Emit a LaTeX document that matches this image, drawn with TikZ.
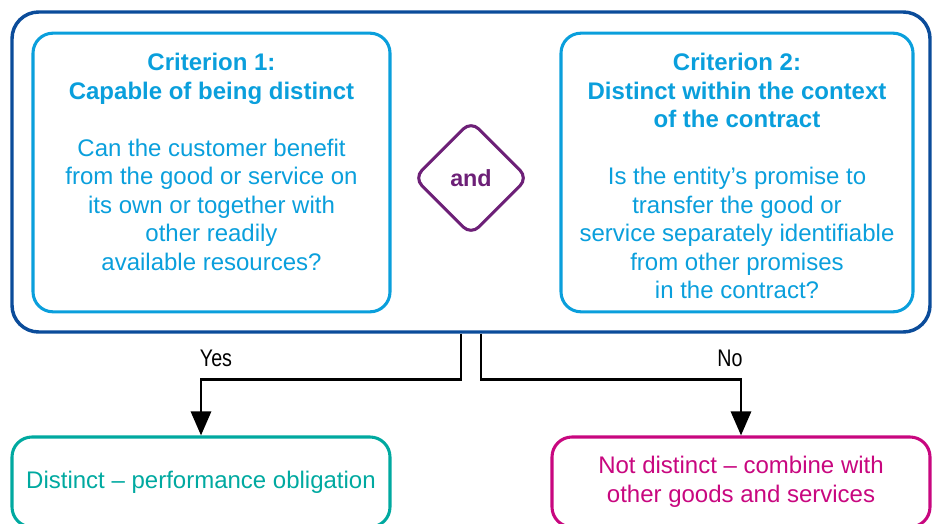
\documentclass[tikz,border=0pt]{standalone}
\usepackage{fontspec}
\setmainfont{Liberation Sans}
\newfontfamily\narrowfont[FakeStretch=0.82]{Liberation Sans}
\usetikzlibrary{shapes,arrows.meta,positioning}
\definecolor{kpmgdark}{HTML}{0B4C9A}
\definecolor{kpmglight}{HTML}{0A9FDC}
\definecolor{kpmgpurple}{HTML}{6D2077}
\definecolor{kpmgteal}{HTML}{00A9A0}
\definecolor{kpmgpink}{HTML}{C8077F}

\begin{document}
\begin{tikzpicture}[x=0.75pt, y=-0.75pt, node distance=1.5cm,
    outerbox/.style={draw=kpmgdark, line width=2.6pt, rounded corners=20pt, minimum width=688.5pt, minimum height=240pt},
    critbox/.style={draw=kpmglight, line width=2.3pt, rounded corners=15pt, minimum height=209pt},
    crittext/.style={text=kpmglight, align=center, inner sep=0pt, font=\fontsize{18}{21.4}\selectfont},
    andbox/.style={diamond, aspect=1, draw=kpmgpurple, line width=2.3pt, rounded corners=8pt, minimum size=86pt, text=kpmgpurple, font=\fontsize{17.5}{20}\selectfont\bfseries},
    resultbox/.style={line width=2.3pt, rounded corners=15pt, minimum width=283.5pt, minimum height=67.5pt, align=center, font=\fontsize{18}{21.4}\selectfont},
    flow/.style={line width=2.2pt, -{Triangle[width=15pt,length=18pt]}},
    answer/.style={font=\narrowfont\fontsize{18}{20}\selectfont}]
    \useasboundingbox (0,0) rectangle (935,524);
    \clip (0,0) rectangle (935,524);

    \node[outerbox] (outer) at (471,172) {};
    \node[critbox, minimum width=267.75pt] (crit1) at (211.5,172.5) {};
    \node[critbox, minimum width=264pt] (crit2) at (737,172.5) {};
    \node[andbox] (and) at (471,178) {and};

    \node[crittext, below=16pt of crit1.north] (crit1text) {\textbf{Criterion 1:}\\\textbf{Capable of being distinct}\\[21.4pt]
        Can the customer benefit\\from the good or service on\\its own or together with\\other readily\\available resources?};
    \node[crittext, below=16pt of crit2.north] (crit2text) {\textbf{Criterion 2:}\\\textbf{Distinct within the context}\\\textbf{of the contract}\\[21.4pt]
        Is the entity’s promise to\\transfer the good or\\service separately identifiable\\from other promises\\in the contract?};

    % outcomes
    \node[resultbox, draw=kpmgteal, text=kpmgteal] (distinct) at (201,482) {Distinct -- performance obligation};
    \node[resultbox, draw=kpmgpink, text=kpmgpink] (combine) at (741,482) {Not distinct -- combine with\\other goods and services};

    \draw[flow] (outer.south) ++(-10,0) -- ++(0,46) -| (distinct.north);
    \draw[flow] (outer.south) ++(10,0) -- ++(0,46) -| (combine.north);
    \node[answer] (yes) at (216,358) {Yes};
    \node[answer] (no) at (730,358) {No};
\end{tikzpicture}
\end{document}
